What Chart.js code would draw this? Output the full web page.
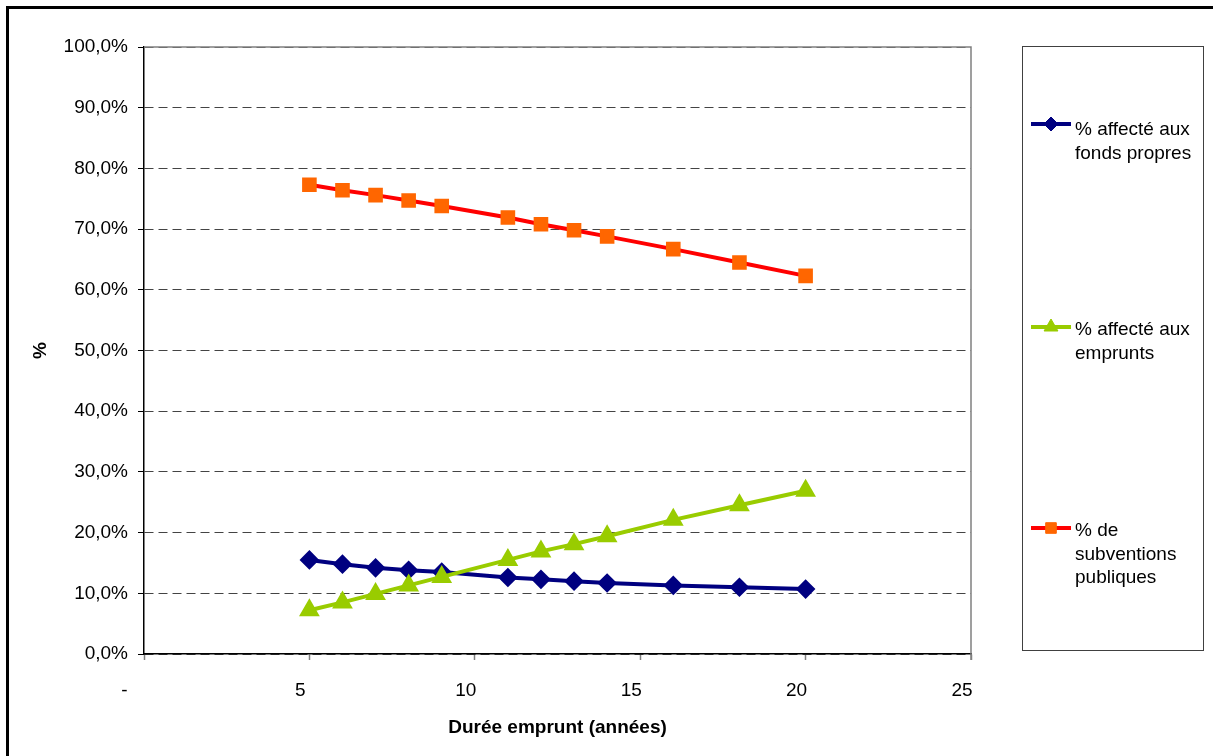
<!DOCTYPE html>
<html>
<head>
<meta charset="utf-8">
<script src="https://cdn.jsdelivr.net/npm/chart.js@4/dist/chart.umd.min.js"></script>
<style>
  html, body { margin: 0; padding: 0; background: #fff; }
  canvas { display: block; }
</style>
</head>
<body>
<canvas id="dureeChart" width="1213" height="756"></canvas>
<script>
// durée de l'emprunt (années)
const durees = [5, 6, 7, 8, 9, 11, 12, 13, 14, 16, 18, 20];
// parts en %
const fondsPropres = [15.5, 14.8, 14.2, 13.8, 13.5, 12.6, 12.3, 12.0, 11.7, 11.3, 11.0, 10.7];
const emprunts = [7.2, 8.5, 9.9, 11.3, 12.7, 15.5, 16.9, 18.1, 19.4, 22.1, 24.5, 26.9];
const subventions = [77.3, 76.4, 75.6, 74.7, 73.8, 71.9, 70.8, 69.8, 68.8, 66.7, 64.5, 62.3];

const seriesNames = ['% affecté aux fonds propres', '% affecté aux emprunts', '% de subventions publiques'];
const legendLines = [
  ['% affecté aux', 'fonds propres'],
  ['% affecté aux', 'emprunts'],
  ['% de', 'subventions', 'publiques']
];
const xTickLabels = { 0: '-    ', 5: '5', 10: '10', 15: '15', 20: '20', 25: '25' };

const FONT = "'Liberation Sans', Arial, sans-serif";

function pts(ys) {
  return durees.map((d, i) => ({ x: d, y: ys[i] }));
}

// white background + outer frame + plot frame
const framePlugin = {
  id: 'frame',
  beforeDraw(chart) {
    const ctx = chart.ctx;
    ctx.save();
    ctx.fillStyle = '#fff';
    ctx.fillRect(0, 0, chart.width, chart.height);
    ctx.strokeStyle = '#000';
    ctx.lineWidth = 3;
    ctx.beginPath();
    ctx.moveTo(7.5, chart.height + 5);
    ctx.lineTo(7.5, 7.5);
    ctx.lineTo(chart.width + 5, 7.5);
    ctx.stroke();
    ctx.restore();
  },
  beforeDatasetsDraw(chart) {
    const a = chart.chartArea;
    const ctx = chart.ctx;
    ctx.save();
    ctx.strokeStyle = '#808080';
    ctx.lineWidth = 1.5;
    ctx.beginPath();
    ctx.moveTo(a.left, a.top);
    ctx.lineTo(a.right, a.top);
    ctx.lineTo(a.right, a.bottom + 6);
    ctx.stroke();
    ctx.restore();
  }
};

// boxed legend on the right, multi-line labels
const boxLegend = {
  id: 'boxLegend',
  afterDraw(chart) {
    const ctx = chart.ctx;
    ctx.save();
    ctx.strokeStyle = '#404040';
    ctx.lineWidth = 1;
    ctx.strokeRect(1022.5, 46.5, 181, 604);
    const lineYs = [124, 327, 528];
    const textYs = [130, 330, 531];
    chart.data.datasets.forEach((ds, i) => {
      const y = lineYs[i];
      ctx.strokeStyle = ds.borderColor;
      ctx.lineWidth = 4;
      ctx.beginPath();
      ctx.moveTo(1031, y);
      ctx.lineTo(1071, y);
      ctx.stroke();
      ctx.fillStyle = ds.pointBackgroundColor;
      ctx.strokeStyle = ds.pointBorderColor;
      ctx.lineWidth = 1;
      Chart.helpers.drawPoint(ctx, { pointStyle: ds.pointStyle, radius: ds.pointRadius, borderWidth: 1, rotation: 0 }, 1051, y);
      ctx.fillStyle = '#000';
      ctx.font = '19px ' + FONT;
      ctx.textAlign = 'left';
      ctx.textBaseline = 'middle';
      legendLines[i].forEach((t, k) => ctx.fillText(t, 1075, textYs[i] + k * 23.5));
    });
    ctx.restore();
  }
};

new Chart(document.getElementById('dureeChart'), {
  type: 'line',
  data: {
    datasets: [
      {
        label: seriesNames[0],
        data: pts(fondsPropres),
        borderColor: '#000080',
        backgroundColor: '#000080',
        pointBackgroundColor: '#000080',
        pointBorderColor: '#000080',
        pointStyle: 'rectRot',
        pointRadius: 7,
        borderWidth: 4,
        order: 2
      },
      {
        label: seriesNames[1],
        data: pts(emprunts),
        borderColor: '#99CC00',
        backgroundColor: '#99CC00',
        pointBackgroundColor: '#99CC00',
        pointBorderColor: '#99CC00',
        pointStyle: 'triangle',
        pointRadius: 8,
        borderWidth: 4,
        order: 1
      },
      {
        label: seriesNames[2],
        data: pts(subventions),
        borderColor: '#FF0000',
        backgroundColor: '#FF6600',
        pointBackgroundColor: '#FF6600',
        pointBorderColor: '#FF6600',
        pointStyle: 'rect',
        pointRadius: 7.5,
        borderWidth: 4,
        order: 0
      }
    ]
  },
  options: {
    responsive: false,
    animation: false,
    layout: { padding: { left: 0, top: 47, right: 242, bottom: 0 } },
    plugins: {
      legend: { display: false },
      tooltip: { enabled: false }
    },
    elements: { line: { tension: 0 }, point: { borderWidth: 1 } },
    scales: {
      x: {
        type: 'linear',
        min: 0,
        max: 25,
        afterFit(scale) { scale.height = 102; },
        ticks: {
          stepSize: 5,
          color: '#000',
          font: { family: FONT, size: 19 },
          padding: 19,
          labelOffset: -9,
          maxRotation: 0,
          callback: v => xTickLabels[v]
        },
        grid: {
          drawOnChartArea: false,
          drawTicks: true,
          tickLength: 6,
          tickColor: '#808080',
          tickWidth: 1.5
        },
        border: { color: '#000', width: 1.5 },
        title: {
          display: true,
          text: 'Durée emprunt (années)',
          color: '#000',
          font: { family: FONT, size: 19, weight: 'bold' },
          padding: { top: 17, bottom: 17 }
        }
      },
      y: {
        min: 0,
        max: 100,
        afterFit(scale) { scale.width = 144; },
        ticks: {
          stepSize: 10,
          color: '#000',
          font: { family: FONT, size: 19 },
          padding: 10,
          callback: v => v.toFixed(1).replace('.', ',') + '%'
        },
        grid: {
          color: '#444',
          lineWidth: 1,
          tickLength: 6,
          tickColor: '#000',
          tickWidth: 1
        },
        border: { color: '#000', width: 1.5, dash: [9, 5] },
        title: {
          display: true,
          text: '%',
          color: '#000',
          font: { family: FONT, size: 19, weight: 'bold' },
          padding: { top: 29, bottom: 29 }
        }
      }
    }
  },
  plugins: [framePlugin, boxLegend]
});
</script>
</body>
</html>
